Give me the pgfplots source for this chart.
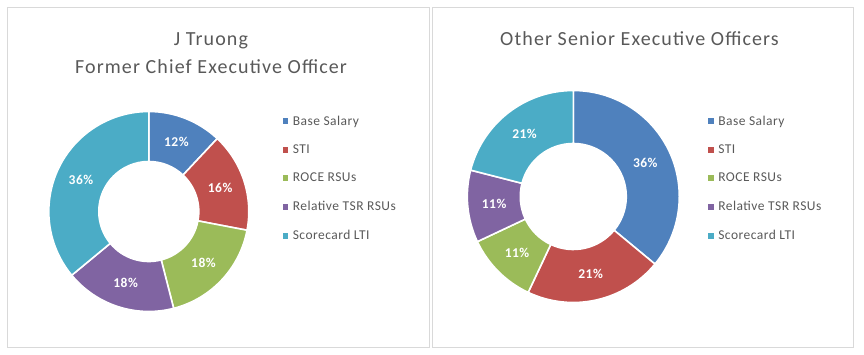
\documentclass[border=0pt]{standalone}
\usepackage{pgfplots}
\usepackage{pgfplotstable}
\pgfplotsset{compat=1.18}
\usepackage{fontspec}
\setmainfont{Carlito}
\newfontfamily\wideC[LetterSpace=3.5]{Carlito}
\newfontfamily\wideT[LetterSpace=5.6]{Carlito}
\definecolor{cA}{HTML}{4F81BD}
\definecolor{cB}{HTML}{C0504D}
\definecolor{cC}{HTML}{9BBB59}
\definecolor{cD}{HTML}{8064A2}
\definecolor{cE}{HTML}{4BACC6}
\definecolor{txt}{HTML}{595959}
\definecolor{frame}{HTML}{D9D9D9}

\pgfplotstableread{
label value color
BaseSalary 12 cA
STI 16 cB
ROCE 18 cC
RelTSR 18 cD
Scorecard 36 cE
}\ceotable

\pgfplotstableread{
label value color
BaseSalary 36 cA
STI 21 cB
ROCE 11 cC
RelTSR 11 cD
Scorecard 21 cE
}\seotable

% #1 table, #2 cx, #3 cy, #4 outer r, #5 inner r
\newcommand\donut[5]{%
  \def\cum{0}%
  \pgfplotstablegetrowsof{#1}%
  \pgfmathtruncatemacro\nrows{\pgfplotsretval-1}%
  \pgfplotsforeachungrouped \i in {0,...,\nrows}{%
    \pgfplotstablegetelem{\i}{value}\of{#1}\let\val\pgfplotsretval
    \pgfplotstablegetelem{\i}{color}\of{#1}\let\col\pgfplotsretval
    \pgfmathsetmacro\aA{90-3.6*\cum}%
    \pgfmathsetmacro\aB{90-3.6*(\cum+\val)}%
    \pgfmathsetmacro\aM{(\aA+\aB)/2}%
    \pgfmathsetmacro\xo{#2+#4*cos(\aA)}%
    \pgfmathsetmacro\yo{#3+#4*sin(\aA)}%
    \pgfmathsetmacro\xi{#2+#5*cos(\aB)}%
    \pgfmathsetmacro\yi{#3+#5*sin(\aB)}%
    \pgfmathsetmacro\xl{#2+(#4+#5)/2*cos(\aM)}%
    \pgfmathsetmacro\yl{#3+(#4+#5)/2*sin(\aM)}%
    \edef\temp{\noexpand\filldraw[fill=\col, draw=white, line width=1.6pt, line join=miter]
      (axis cs:\xo,\yo) arc[start angle=\aA, end angle=\aB, radius=#4pt]
      -- (axis cs:\xi,\yi) arc[start angle=\aB, end angle=\aA, radius=#5pt] -- cycle;
      \noexpand\node[text=white, font=\noexpand\wideC\noexpand\fontsize{13.5}{15}\noexpand\selectfont\noexpand\bfseries]
      at (axis cs:\xl,\yl) {\val\noexpand\%};}%
    \temp
    \pgfmathsetmacro\cum{\cum+\val}%
  }%
}

\pgfplotsset{
  panel/.style={
    scale only axis, anchor=south west,
    height=340pt, ymin=0, ymax=340,
    axis lines=box, ticks=none,
    axis line style={draw=frame, line width=0.8pt},
    clip=false,
    legend cell align=left,
    legend image code/.code={\fill[##1, draw=none] (0pt,-2.8pt) rectangle (5.6pt,2.8pt);},
    legend style={draw=none, fill=none, anchor=north west,
      font=\wideC\fontsize{13.5}{15}\selectfont, text=txt,
      row sep=14.1pt, inner sep=0pt,
      /tikz/every odd column/.append style={column sep=2.5pt}},
  },
}

\begin{document}
\begin{tikzpicture}[x=1pt,y=1pt]
\path (0,0) rectangle (864,355);
% Left panel: axis x = px-7, axis y = 347-py
\begin{axis}[panel, at={(7pt,8pt)}, width=422pt, xmin=0, xmax=422,
  legend style={at={(axis cs:275.5,233.5)}}]
\addlegendimage{fill=cA}\addlegendentry{Base Salary}
\addlegendimage{fill=cB}\addlegendentry{STI}
\addlegendimage{fill=cC}\addlegendentry{ROCE RSUs}
\addlegendimage{fill=cD}\addlegendentry{Relative TSR RSUs}
\addlegendimage{fill=cE}\addlegendentry{Scorecard LTI}
\donut{\ceotable}{141.8}{135.5}{100}{50}
\node[anchor=base, text=txt, font=\wideT\fontsize{20}{24}\selectfont] at (axis cs:204,301) {J Truong};
\node[anchor=base, text=txt, font=\wideT\fontsize{20}{24}\selectfont] at (axis cs:204,273.2) {Former Chief Executive Officer};
\end{axis}
% Right panel: axis x = px-432
\begin{axis}[panel, at={(432pt,8pt)}, width=421pt, xmin=0, xmax=421,
  legend style={at={(axis cs:276,233.5)}}]
\addlegendimage{fill=cA}\addlegendentry{Base Salary}
\addlegendimage{fill=cB}\addlegendentry{STI}
\addlegendimage{fill=cC}\addlegendentry{ROCE RSUs}
\addlegendimage{fill=cD}\addlegendentry{Relative TSR RSUs}
\addlegendimage{fill=cE}\addlegendentry{Scorecard LTI}
\donut{\seotable}{141.3}{150.5}{106}{53}
\node[anchor=base, text=txt, font=\wideT\fontsize{20}{24}\selectfont] at (axis cs:207.5,301) {Other Senior Executive Officers};
\end{axis}
\end{tikzpicture}
\end{document}
